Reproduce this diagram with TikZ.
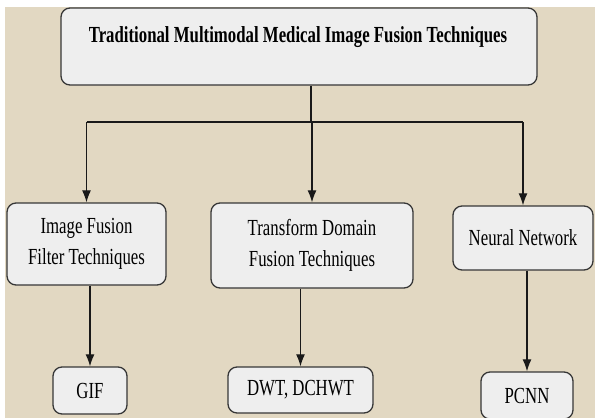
\documentclass[tikz,border=0pt]{standalone}
\usepackage{fontspec}
\setmainfont[FakeStretch=0.73]{Liberation Serif}
\usetikzlibrary{arrows.meta}
\definecolor{bgbeige}{RGB}{226,216,194}
\definecolor{boxfill}{RGB}{238,238,238}
\definecolor{boxline}{RGB}{55,55,55}
\definecolor{lineclr}{RGB}{25,25,25}
\tikzset{
  box/.style={draw=boxline, fill=boxfill, rounded corners=9pt, line width=1.3pt,
    inner sep=0pt, align=center, font=\fontsize{23}{31}\selectfont},
  conn/.style={draw=lineclr, line width=1.2pt},
  arr/.style={conn, -{Latex[length=12pt,width=9pt]}}
}
\begin{document}
\begin{tikzpicture}[x=1pt,y=-1pt]
\fill[white] (0,0) rectangle (595,418);
\fill[bgbeige] (5,7) rectangle (595,418);
\useasboundingbox (0,0) rectangle (595,418);
% boxes
\node[box, minimum width=476pt, minimum height=77pt] (top) at (299,46.5) {};
\node[font=\fontsize{23}{31}\selectfont\bfseries, inner sep=0pt] (toptext) at (298,37) {Traditional Multimodal Medical Image Fusion Techniques};
\node[box, minimum width=159pt, minimum height=82pt] (f1) at (86.5,244) {Image Fusion\\Filter Techniques};
\node[box, minimum width=202pt, minimum height=85pt] (f2) at (312,245.5) {Transform Domain\\Fusion Techniques};
\node[box, minimum width=140pt, minimum height=64pt] (f3) at (523,238) {Neural Network};
\node[box, minimum width=74pt, minimum height=47pt] (gif) at (90,390.5) {GIF};
\node[box, minimum width=145pt, minimum height=46pt] (dwt) at (300.5,390) {DWT, DCHWT};
\node[box, minimum width=92pt, minimum height=47pt] (pcnn) at (527,395.5) {PCNN};
% connectors
\coordinate (j) at (311,122);
\draw[conn] (top.south -| j) -- (j);
\draw[conn] (f1.north |- j) -- (f3.north |- j);
\draw[arr] (f1.north |- j) -- (f1.north);
\draw[arr] (f2.north |- j) -- (f2.north);
\draw[arr] (f3.north |- j) -- (f3.north);
\draw[arr] (f1.south -| gif.north) -- (gif.north);
\draw[arr] (f2.south -| dwt.north) -- (dwt.north);
\draw[arr] (f3.south -| pcnn.north) -- (pcnn.north);
\end{tikzpicture}
\end{document}
